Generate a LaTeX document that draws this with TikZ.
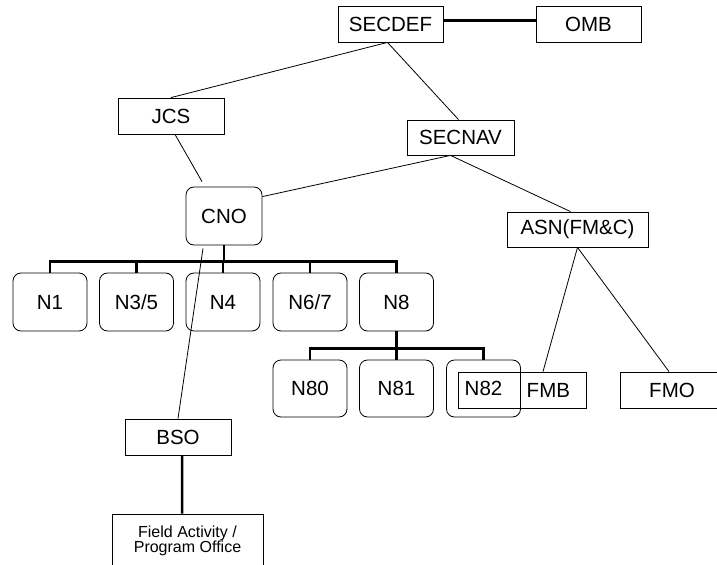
\documentclass[tikz,border=0pt]{standalone}
\usepackage{fontspec}
\setmainfont{Liberation Sans}
\usetikzlibrary{positioning}
\usetikzlibrary{calc}

\begin{document}
\begin{tikzpicture}[x=1bp,y=-1bp,
  box/.style={draw,line width=0.8bp,inner sep=0pt,minimum height=36bp,font=\fontsize{20.5bp}{24bp}\selectfont},
  rbox/.style={box,rounded corners=8bp,minimum width=74bp,minimum height=58bp},
  link/.style={line width=0.8bp},
  bar/.style={line width=2.5bp}]
\clip (0,0) rectangle (717,565);
\useasboundingbox (0,0) rectangle (717,565);

% top level
\node[box,minimum width=105bp] (SECDEF) at (390.5,24){SECDEF};
\node[box,minimum width=105bp] (OMB) at (588.5,24){OMB};
\node[box,minimum width=106bp] (JCS) at (171,116){JCS};
\node[box,minimum width=107bp,minimum height=35bp] (SECNAV) at (460.5,137.5){SECNAV};
\node[rbox,minimum width=76bp] (CNO) at (224,216){CNO};
\node[box,minimum width=141bp,minimum height=35bp] (ASN) at (577.5,229.5){ASN(FM\&C)};

% codes
\node[rbox] (N1) at (50,302){N1};
\node[rbox] (N35) at (136.5,302){N3/5};
\node[rbox] (N4) at (223,302){N4};
\node[rbox] (N67) at (310,302){N6/7};
\node[rbox] (N8) at (396.5,302){N8};
\node[rbox,minimum height=57bp] (N80) at (310,388.5){N80};
\node[rbox,minimum height=57bp] (N81) at (396.5,388.5){N81};
\node[rbox,minimum height=57bp] (N82) at (483.5,388.5){N82};

\node[box,minimum width=128bp,text width=96bp,inner xsep=16bp,align=right] (FMB) at (522,390){FMB};
\node[box,minimum width=104bp] (FMO) at (672,390){FMO};
\node[box,minimum width=106bp] (BSO) at (178,437){BSO};
\node[box,minimum width=151bp,minimum height=54bp,align=center,font=\fontsize{16bp}{15bp}\selectfont] (FIELD) at (187.5,541){Field Activity /\\Program Office};

% connectors
\draw[line width=2.2bp] ([yshift=3.5bp]SECDEF.east) -- ([yshift=3.5bp]OMB.west);
\draw[link] ([xshift=-3bp]SECDEF.south) -- (JCS.north);
\draw[link] ([xshift=-3bp]SECDEF.south) -- ([xshift=-2bp]SECNAV.north);
\draw[link] ([xshift=4bp]JCS.south) -- ([xshift=-22bp,yshift=5bp]CNO.north);
\draw[link] ([xshift=-10bp]SECNAV.south) -- ([yshift=-10bp]CNO.north east);
\draw[link] ([xshift=-10bp]SECNAV.south) -- ([xshift=-7bp]ASN.north);
\draw[link] (ASN.south) -- ([xshift=21bp]FMB.north);
\draw[link] (ASN.south) -- ([xshift=-3bp]FMO.north);
\draw[link] ([xshift=-21bp,yshift=-3bp]CNO.south) -- (BSO.north);
\draw[bar] ([xshift=4bp]BSO.south) -- ([xshift=-5.5bp]FIELD.north);

\draw[bar] (CNO.south) -- ++(0,17);
\draw[bar] (N1.north) -- ++(0,-11) -| (N8.north);
\foreach \n in {N35,N4,N67}
  \draw[bar] (\n.north) -- ++(0,-11);
\draw[bar] (N8.south) -- ++(0,18);
\draw[bar] (N80.north) -- ++(0,-11) -| (N82.north);
\draw[bar] (N81.north) -- ++(0,-11);

\end{tikzpicture}
\end{document}
